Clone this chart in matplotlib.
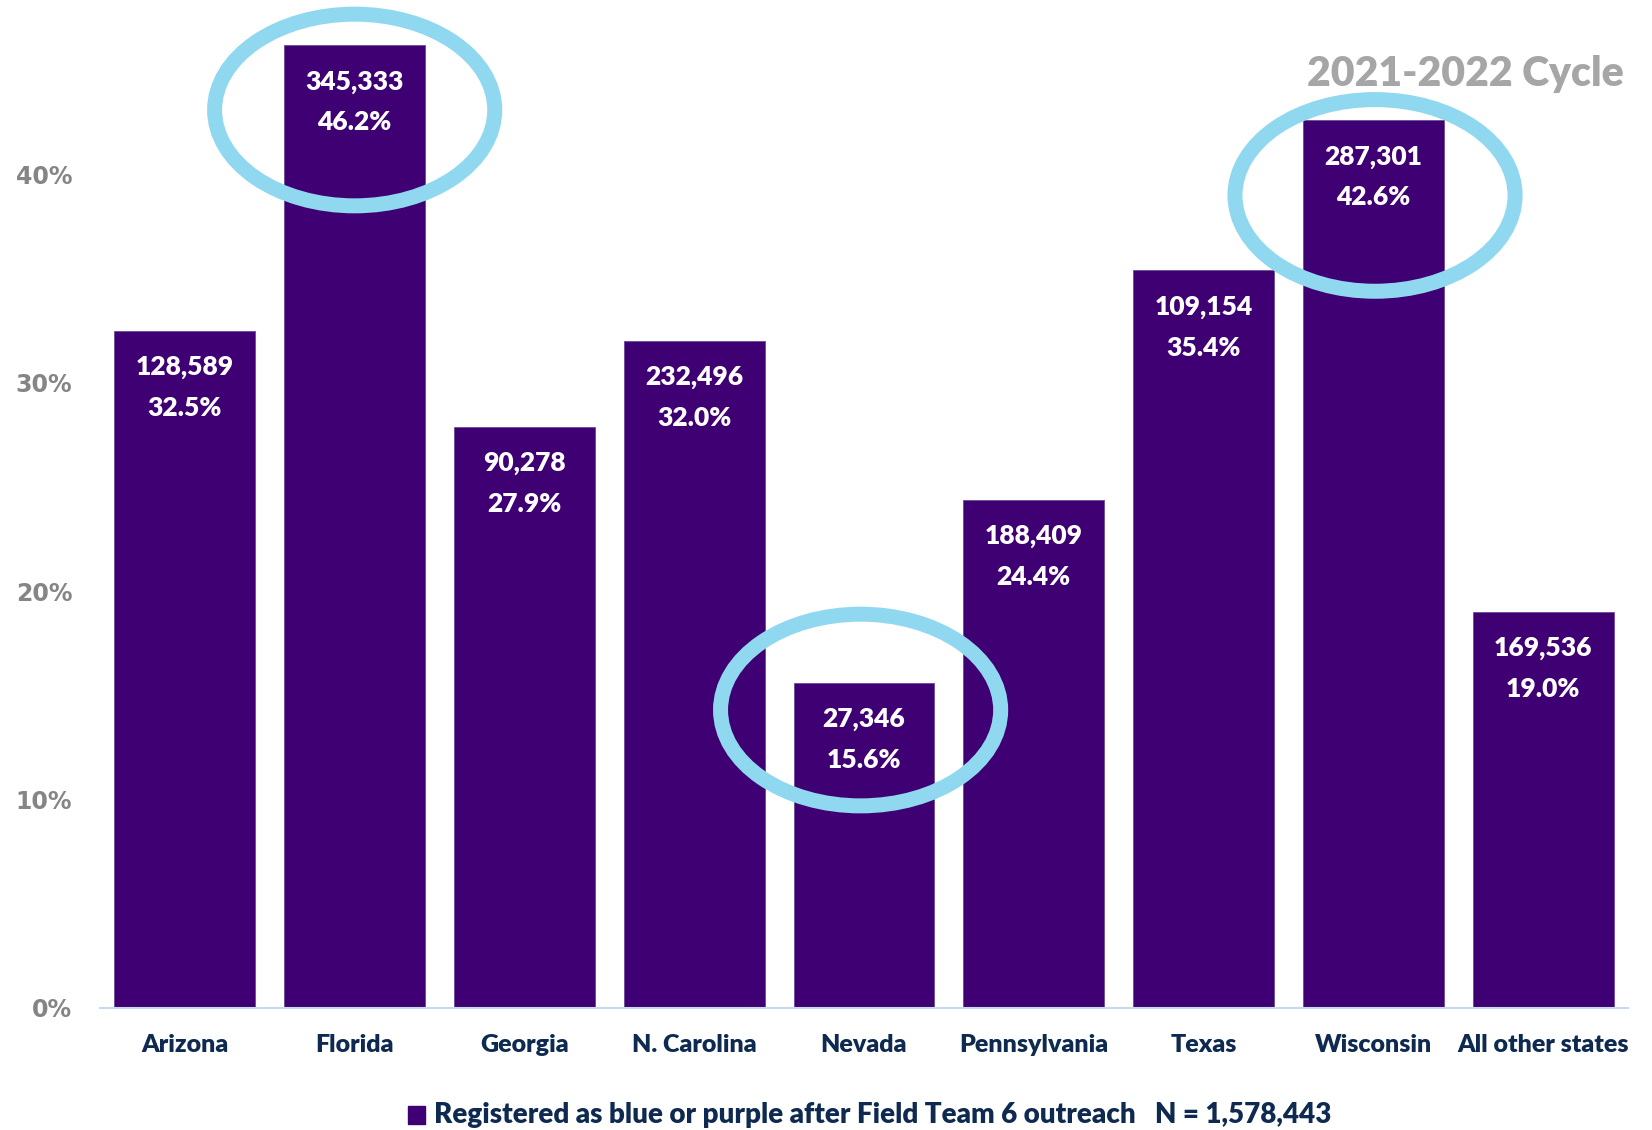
import matplotlib
matplotlib.use("Agg")
import matplotlib.pyplot as plt
from matplotlib.patches import Ellipse, Rectangle

# registration outcomes per state
states = ["Arizona", "Florida", "Georgia", "N. Carolina", "Nevada",
          "Pennsylvania", "Texas", "Wisconsin", "All other states"]
counts = [128589, 345333, 90278, 232496, 27346, 188409, 109154, 287301, 169536]
pcts = [32.5, 46.2, 27.9, 32.0, 15.6, 24.4, 35.4, 42.6, 19.0]
yticks = [0, 10, 20, 30, 40]

# highlighted bars: (x center, y center, width, height)
circled = [(1.0, 43.1, 1.65, 9.2), (3.98, 14.3, 1.65, 9.2), (7.01, 39.0, 1.65, 9.2)]

purple = "#3e0072"
navy = "#0e2a50"
ring = "#8fd8f0"
fnt = ["Lato", "DejaVu Sans"]

fig = plt.figure(figsize=(16.52, 11.30), dpi=100)
ax = fig.add_axes([100 / 1652, 0.108, 1528 / 1652, 0.885])

x = list(range(len(states)))
ax.bar(x, pcts, width=0.83, color=purple, edgecolor="#6a4a95", linewidth=0.6, zorder=2)

for i in x:
    ax.annotate(f"{counts[i]:,}", (i, pcts[i]), xytext=(0, -26), textcoords="offset points",
                ha="center", va="center", color="white", fontsize=19,
                fontweight="heavy", family=fnt, zorder=5)
    ax.annotate(f"{pcts[i]:.1f}%", (i, pcts[i]), xytext=(0, -55.5), textcoords="offset points",
                ha="center", va="center", color="white", fontsize=19,
                fontweight="heavy", family=fnt, zorder=5)

for cx, cy, w, h in circled:
    ax.add_patch(Ellipse((cx, cy), w, h, fill=False, edgecolor=ring,
                         linewidth=10.8, zorder=4, clip_on=False))

ax.set_xlim(-0.5, 8.5)
ax.set_ylim(0, 48)
ax.set_yticks(yticks)
ax.set_yticklabels([f"{t}%" for t in yticks], color="#858585", fontsize=17,
                   fontweight="bold", family="DejaVu Sans")
ax.set_xticks(x)
ax.set_xticklabels(states, color=navy, fontsize=18, fontweight="heavy", family=fnt)
ax.tick_params(axis="y", length=0, pad=20)
ax.tick_params(axis="x", length=0, pad=19)

for s in ["top", "right", "left"]:
    ax.spines[s].set_visible(False)
ax.spines["bottom"].set_color("#c9d8ec")
ax.spines["bottom"].set_linewidth(1.5)

fig.text(1624 / 1652, 1 - 74 / 1130, "2021-2022 Cycle", ha="right", va="center",
         color="#a6a6a6", fontsize=29.5, fontweight="heavy", family=fnt)

# legend
fig.patches.append(Rectangle((408 / 1652, 1 - 1124 / 1130), 17 / 1652, 18 / 1130,
                             transform=fig.transFigure, color=purple))
fig.text(434 / 1652, 1 - 1115 / 1130,
         "Registered as blue or purple after Field Team 6 outreach   N = 1,578,443",
         ha="left", va="center", color=navy, fontsize=20, fontweight="heavy", family=fnt)

fig.savefig("out.png", dpi=100)
